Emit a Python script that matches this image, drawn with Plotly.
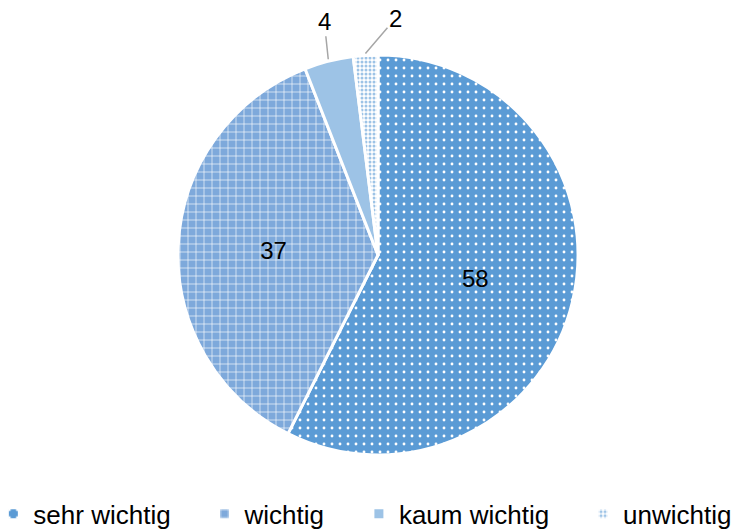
import math
import plotly.graph_objects as go

labels = ["sehr wichtig", "wichtig", "kaum wichtig", "unwichtig"]
values = [58, 37, 4, 2]

W, H = 739, 532
cx_px, cy_px, r_px = 378, 255, 200

# a few non-breaking spaces widen the legend entries like in the original
legend_names = [l + "\u00a0" * 4 for l in labels[:-1]] + [labels[-1]]

fig = go.Figure()

fig.add_trace(go.Pie(
    labels=legend_names,
    values=values,
    sort=False,
    direction="clockwise",
    rotation=0,
    domain=dict(x=[(cx_px - r_px) / W, (cx_px + r_px) / W],
                y=[(H - cy_px - r_px) / H, (H - cy_px + r_px) / H]),
    texttemplate=["%{value}", "%{value}", "", ""],
    textposition="inside",
    insidetextorientation="horizontal",
    textfont=dict(family="Liberation Sans, Arial", size=24, color="black"),
    automargin=False,
    hoverinfo="label+value",
    marker=dict(
        colors=["#5B9BD5", "#7EA9DB", "#9DC3E6", "#FFFFFF"],
        line=dict(color="white", width=3),
        pattern=dict(
            shape=[".", "+", "", "."],
            fgcolor=["#FFFFFF", "#FFFFFF", "#9DC3E6", "#9DC3E6"],
            bgcolor=["#5B9BD5", "#7EA9DB", "#9DC3E6", "#FFFFFF"],
            fillmode="replace",
            size=[8, 8, 8, 4],
            solidity=[0.1, 0.15, 0.5, 0.45],
        ),
    ),
    showlegend=True,
))

# leader lines + labels for the small slices
total = sum(values)
cum = 0
offsets = {2: (-4, -38), 3: (30, -35)}
for i, v in enumerate(values):
    mid = (cum + v / 2) / total * 2 * math.pi
    cum += v
    if i not in offsets:
        continue
    px = cx_px + (r_px + 2) * math.sin(mid)
    py = cy_px - (r_px + 2) * math.cos(mid)
    fig.add_annotation(
        x=px / W, y=(H - py) / H, xref="paper", yref="paper",
        text=str(v), showarrow=True, arrowhead=0, arrowwidth=1.5,
        arrowcolor="#A6A6A6", ax=offsets[i][0], ay=offsets[i][1],
        font=dict(family="Liberation Sans, Arial", size=24, color="black"),
    )

fig.update_layout(
    width=W, height=H,
    margin=dict(l=0, r=0, t=0, b=0, autoexpand=False),
    paper_bgcolor="white",
    plot_bgcolor="white",
    font=dict(family="Liberation Sans, Arial", color="black"),
    legend=dict(
        orientation="h",
        x=-0.009, xanchor="left",
        y=-0.01, yanchor="bottom",
        font=dict(size=26),
        itemwidth=30,
        traceorder="normal",
    ),
)

fig.write_html("out.html", config={"displayModeBar": False},
               post_script="document.body.style.margin='0';")
